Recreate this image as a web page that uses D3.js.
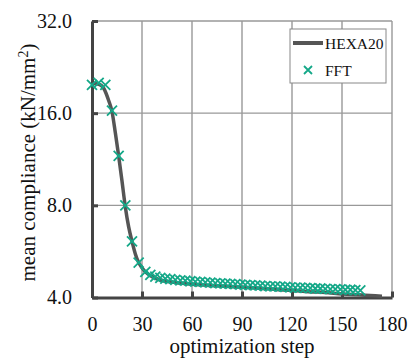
<!DOCTYPE html>
<html>
<head>
<meta charset="utf-8">
<script src="https://d3js.org/d3.v7.min.js"></script>
<style>
  body { margin: 0; background: #fff; }
  text { font-family: "Liberation Serif", "Times New Roman", serif; fill: #111; }
</style>
</head>
<body>
<div id="chart"></div>
<script>
  // HEXA20 curve (optimization step, mean compliance)
  var hexaSteps  = [0, 4, 7, 10, 12, 14, 16, 18, 20, 22, 24, 26, 28, 30, 32, 36, 40, 50, 60, 70, 80, 90, 100, 110, 120, 130, 140, 150, 160, 170, 174];
  var hexaValues = [20.0, 19.9, 19.3, 17.6, 16.2, 13.8, 11.6, 9.6, 7.9, 6.8, 6.1, 5.55, 5.2, 5.0, 4.85, 4.68, 4.58, 4.48, 4.42, 4.38, 4.35, 4.32, 4.29, 4.25, 4.22, 4.18, 4.15, 4.11, 4.08, 4.05, 4.04];

  // FFT markers
  var fftSteps  = [0, 4, 8, 12, 16, 20, 24, 28, 32,
                   35, 38, 41, 44, 47, 50, 53, 56, 59, 62, 65, 68, 71, 74, 77, 80, 83, 86, 89, 92,
                   95, 98, 101, 104, 107, 110, 113, 116, 119, 122, 125, 128, 131, 134, 137, 140,
                   143, 146, 149, 152, 155, 158, 161];
  var fftValues = [19.8, 20.1, 19.8, 16.3, 11.6, 8.0, 6.1, 5.2, 4.85,
                   4.74, 4.68, 4.64, 4.61, 4.59, 4.57, 4.55, 4.54, 4.52, 4.51, 4.50, 4.48, 4.47, 4.46, 4.45, 4.44, 4.43, 4.42, 4.41, 4.40,
                   4.39, 4.38, 4.37, 4.36, 4.35, 4.35, 4.34, 4.33, 4.32, 4.31, 4.31, 4.30, 4.29, 4.28, 4.28, 4.27,
                   4.26, 4.26, 4.25, 4.24, 4.24, 4.23, 4.22];

  var xTicks = [0, 30, 60, 90, 120, 150, 180];
  var yTicks = [4, 8, 16, 32];
  var seriesNames = ["HEXA20", "FFT"];

  var margin = {top: 21, right: 23, bottom: 61.5, left: 92},
      width = 415 - margin.left - margin.right,
      height = 359 - margin.top - margin.bottom;

  var svg = d3.select("#chart")
    .append("svg")
      .attr("width", 415)
      .attr("height", 359)
    .append("g")
      .attr("transform", "translate(" + margin.left + "," + margin.top + ")");

  var x = d3.scaleLinear().domain([0, 180]).range([0, width]);
  var y = d3.scaleLog().base(2).domain([4, 32]).range([height, 0]);

  // grid
  svg.append("g").selectAll("line.vg")
    .data(xTicks.slice(1))
    .enter().append("line")
      .attr("x1", function(d) { return x(d); })
      .attr("x2", function(d) { return x(d); })
      .attr("y1", 0).attr("y2", height)
      .style("stroke", "#999").style("stroke-width", 1.4);
  svg.append("g").selectAll("line.hg")
    .data(yTicks.slice(1))
    .enter().append("line")
      .attr("x1", 0).attr("x2", width)
      .attr("y1", function(d) { return y(d); })
      .attr("y2", function(d) { return y(d); })
      .style("stroke", "#999").style("stroke-width", 1.4);

  // axes
  var xAxis = svg.append("g")
    .attr("transform", "translate(0," + height + ")")
    .call(d3.axisBottom(x).tickValues(xTicks).tickSizeInner(-6).tickSizeOuter(0).tickPadding(19));
  var yAxis = svg.append("g")
    .call(d3.axisLeft(y).tickValues(yTicks).tickFormat(d3.format(".1f")).tickSizeInner(-6).tickSizeOuter(0).tickPadding(20));

  [xAxis, yAxis].forEach(function(a) {
    a.select(".domain").style("stroke", "#444").style("stroke-width", 3);
    a.selectAll(".tick line").style("stroke", "#444").style("stroke-width", 3);
    a.selectAll(".tick text")
      .style("font-family", "Liberation Serif")
      .style("font-size", "20px")
      .style("fill", "#111");
  });

  // HEXA20 line
  var hexa = hexaSteps.map(function(s, i) { return [s, hexaValues[i]]; });
  svg.append("path")
    .datum(hexa)
    .attr("d", d3.line()
      .x(function(d) { return x(d[0]); })
      .y(function(d) { return y(d[1]); })
      .curve(d3.curveMonotoneX))
    .style("fill", "none")
    .style("stroke", "#555")
    .style("stroke-width", 3.5);

  // FFT crosses
  var fft = fftSteps.map(function(s, i) { return [s, fftValues[i]]; });
  var cross = "M-5,-5L5,5M-5,5L5,-5";
  svg.append("g").selectAll("path")
    .data(fft)
    .enter().append("path")
      .attr("transform", function(d) { return "translate(" + x(d[0]) + "," + y(d[1]) + ")"; })
      .attr("d", cross)
      .style("fill", "none")
      .style("stroke", "#14a888")
      .style("stroke-width", 1.8);

  // axis titles
  svg.append("text")
    .attr("x", width / 2)
    .attr("y", 353 - margin.top)
    .attr("text-anchor", "middle")
    .style("font-size", "21px")
    .text("optimization step");

  var yl = svg.append("text")
    .attr("transform", "rotate(-90)")
    .attr("x", -(162.5 - margin.top))
    .attr("y", 34.5 - margin.left)
    .attr("text-anchor", "middle")
    .style("font-size", "21px");
  yl.append("tspan").text("mean compliance (kN/mm");
  yl.append("tspan").attr("baseline-shift", "super").style("font-size", "14px").text("2");
  yl.append("tspan").text(")");

  // legend
  var lg = svg.append("g").attr("transform", "translate(" + (290 - margin.left) + "," + (29 - margin.top) + ")");
  lg.append("rect")
    .attr("width", 96).attr("height", 54)
    .style("fill", "#fff").style("stroke", "#888").style("stroke-width", 1);
  lg.append("line")
    .attr("x1", 3).attr("x2", 33).attr("y1", 14).attr("y2", 14)
    .style("stroke", "#555").style("stroke-width", 4);
  lg.append("path")
    .attr("transform", "translate(18,41)")
    .attr("d", "M-4,-4L4,4M-4,4L4,-4")
    .style("fill", "none").style("stroke", "#14a888").style("stroke-width", 1.8);
  lg.selectAll("text.lg")
    .data(seriesNames)
    .enter().append("text")
      .attr("x", 35)
      .attr("y", function(d, i) { return 19.5 + i * 27; })
      .style("font-size", "15.5px")
      .text(function(d) { return d; });
</script>
</body>
</html>
